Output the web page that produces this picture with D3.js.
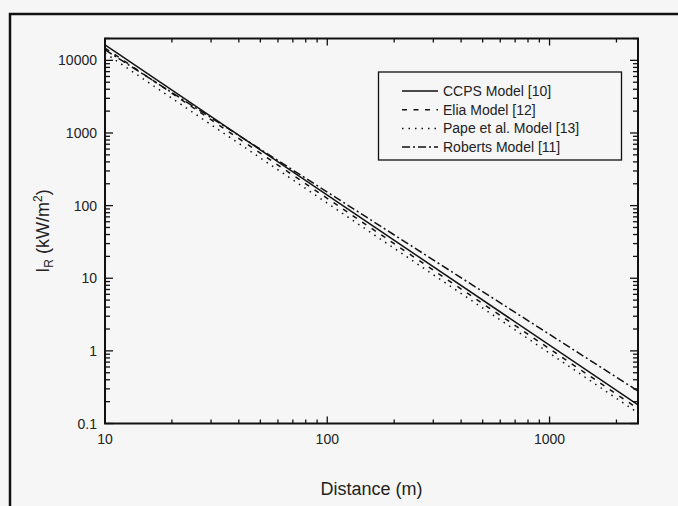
<!DOCTYPE html>
<html><head><meta charset="utf-8">
<script src="https://cdn.jsdelivr.net/npm/d3@7"></script>
<style>
html,body{margin:0;padding:0;background:#f6f6f6;}
svg{display:block;font-family:"Liberation Sans",Arial,Helvetica,sans-serif;}
</style></head>
<body><svg id="c" width="678" height="506"></svg>
<script>
// ---- data ----
const distances = [10, 2500];
const ccpsValues = [16300, 0.18];
const eliaValues = [14800, 0.16];
const papeValues = [12600, 0.14];
const robertsValues = [14000, 0.28];
const seriesNames = ["CCPS Model [10]", "Elia Model [12]", "Pape et al. Model [13]", "Roberts Model [11]"];
const xTickLabels = [10, 100, 1000];
const yTickLabels = [0.1, 1, 10, 100, 1000, 10000];

const series = [
  {name: seriesNames[0], values: ccpsValues, dash: null},
  {name: seriesNames[1], values: eliaValues, dash: "5,6.5"},
  {name: seriesNames[2], values: papeValues, dash: "1.5,5"},
  {name: seriesNames[3], values: robertsValues, dash: "8,3,2,3"}
];

const svg = d3.select("#c");
svg.append("rect").attr("width",678).attr("height",506).attr("fill","#f6f6f6");
// outer frame (left and top)
svg.append("path").attr("d","M10,506 V14 H678").attr("fill","none").attr("stroke","#111").attr("stroke-width",2.5);

const L = 105, R = 638, T = 38.5, B = 423.5;
const x = d3.scaleLog().domain([10, 2500]).range([L, R]);
const y = d3.scaleLog().domain([0.1, 20000]).range([B, T]);

const g = svg.append("g");

// minor/major ticks
function logTicks(lo, hi) {
  const out = [];
  for (let e = Math.floor(Math.log10(lo)); e <= Math.ceil(Math.log10(hi)); e++) {
    for (let m = 1; m <= 9; m++) {
      const v = m * Math.pow(10, e);
      if (v >= lo * 0.9999 && v <= hi * 1.0001) out.push({v, major: m === 1});
    }
  }
  return out;
}
const xt = logTicks(10, 2500), yt = logTicks(0.1, 20000);
const tickG = g.append("g").attr("stroke","#111").attr("stroke-width",1.3);
xt.forEach(t => {
  const px = x(t.v), len = t.major ? 7 : 4;
  tickG.append("line").attr("x1",px).attr("x2",px).attr("y1",B).attr("y2",B-len);
  tickG.append("line").attr("x1",px).attr("x2",px).attr("y1",T).attr("y2",T+len);
});
yt.forEach(t => {
  const py = y(t.v), len = t.major ? 8 : 5;
  tickG.append("line").attr("x1",L).attr("x2",L+len).attr("y1",py).attr("y2",py);
  tickG.append("line").attr("x1",R).attr("x2",R-len).attr("y1",py).attr("y2",py);
});

// plot frame
g.append("rect").attr("x",L).attr("y",T).attr("width",R-L).attr("height",B-T)
  .attr("fill","none").attr("stroke","#111").attr("stroke-width",2);

// tick labels
const fmt = v => (v < 1 ? String(v) : d3.format("d")(v));
xTickLabels.forEach(v => {
  g.append("text").attr("x",x(v)).attr("y",B+20).attr("text-anchor","middle")
   .attr("font-size",14).attr("fill","#222").text(fmt(v));
});
yTickLabels.forEach(v => {
  g.append("text").attr("x",L-8).attr("y",y(v)+5).attr("text-anchor","end")
   .attr("font-size",14).attr("fill","#222").text(fmt(v));
});

// axis titles
g.append("text").attr("x",(L+R)/2).attr("y",495).attr("text-anchor","middle")
  .attr("font-size",18).attr("fill","#222").text("Distance (m)");
const yt_ = g.append("text").attr("transform",`translate(49,${(T+B)/2}) rotate(-90)`)
  .attr("text-anchor","middle").attr("font-size",18).attr("fill","#222");
yt_.append("tspan").text("I");
yt_.append("tspan").attr("font-size",12).attr("dy",4).text("R");
yt_.append("tspan").attr("dy",-4).text(" (kW/m");
yt_.append("tspan").attr("font-size",12).attr("dy",-7).text("2");
yt_.append("tspan").attr("dy",7).text(")");

// lines
const clip = svg.append("clipPath").attr("id","pc").append("rect")
  .attr("x",L).attr("y",T).attr("width",R-L).attr("height",B-T);
const line = d3.line().x(d => x(d[0])).y(d => y(d[1]));
series.forEach(s => {
  g.append("path").attr("clip-path","url(#pc)")
   .attr("d", line(distances.map((d,i) => [d, s.values[i]])))
   .attr("fill","none").attr("stroke","#111").attr("stroke-width",1.5)
   .attr("stroke-dasharray", s.dash);
});

// legend
const lg = g.append("g");
lg.append("rect").attr("x",378.5).attr("y",72).attr("width",243).attr("height",88)
  .attr("fill","#f6f6f6").attr("stroke","#111").attr("stroke-width",1.3);
series.forEach((s,i) => {
  const ly = 91 + i*18.7;
  lg.append("line").attr("x1",402).attr("x2",438).attr("y1",ly).attr("y2",ly)
    .attr("stroke","#111").attr("stroke-width",1.5).attr("stroke-dasharray", s.dash);
  lg.append("text").attr("x",443).attr("y",ly+5).attr("font-size",14).attr("fill","#222").text(s.name);
});
</script></body></html>
